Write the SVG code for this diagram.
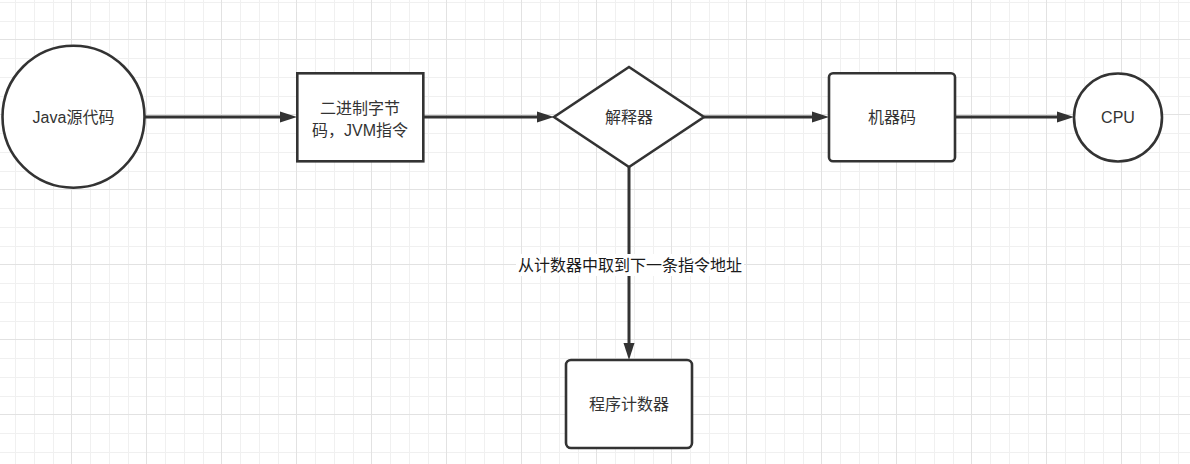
<svg xmlns="http://www.w3.org/2000/svg" width="1190" height="464" viewBox="0 0 1190 464">
<style>
.n{fill:#ffffff;stroke:#333333;stroke-width:2.6}
.t{font-family:"Liberation Sans","Noto Sans CJK SC",sans-serif;font-size:16px;fill:#333333;text-anchor:middle;dominant-baseline:central}
.e{fill:none;stroke:#333333;stroke-width:3}
.lbl{font-family:"Liberation Sans","Noto Sans CJK SC",sans-serif;font-size:16px;fill:#1a1a1a;text-anchor:middle;dominant-baseline:central}
</style>
<defs>
<pattern id="grid" patternUnits="userSpaceOnUse" x="-4" y="-36" width="75" height="75">
<rect x="0" y="0" width="75" height="75" fill="#ffffff"/>
<rect x="19" y="0" width="1" height="75" fill="#f0f0f0"/>
<rect x="38" y="0" width="1" height="75" fill="#f0f0f0"/>
<rect x="57" y="0" width="1" height="75" fill="#f0f0f0"/>
<rect x="0" y="19" width="75" height="1" fill="#f0f0f0"/>
<rect x="0" y="38" width="75" height="1" fill="#f0f0f0"/>
<rect x="0" y="57" width="75" height="1" fill="#f0f0f0"/>
<rect x="0" y="0" width="1" height="75" fill="#e2e2e2"/>
<rect x="0" y="0" width="75" height="1" fill="#e2e2e2"/>
</pattern>
<marker id="arr" markerUnits="userSpaceOnUse" markerWidth="18" markerHeight="12" refX="0" refY="5.5" orient="auto" overflow="visible">
<path d="M0,0 L17,5.5 L0,11 Z" fill="#333333"/>
</marker>
</defs>
<rect x="0" y="0" width="1190" height="464" fill="url(#grid)"/>
<g id="connectors">
<path class="e" d="M145,117 L280,117" marker-end="url(#arr)"/>
<path class="e" d="M423,117 L537,117" marker-end="url(#arr)"/>
<path class="e" d="M704,117 L812,117" marker-end="url(#arr)"/>
<path class="e" d="M955,117 L1057,117" marker-end="url(#arr)"/>
<path class="e" d="M629,167 L629,343" marker-end="url(#arr)"/>
<rect x="516" y="254" width="228" height="22" fill="#ffffff"/>
<text class="lbl" x="630" y="265">从计数器中取到下一条指令地址</text>
</g>
<g id="java">
<circle class="n" cx="73.5" cy="116.7" r="71"/>
<text class="t" x="73.5" y="117">Java源代码</text>
</g>
<g id="bytecode">
<rect class="n" x="297.3" y="73.3" width="126" height="88"/>
<text class="t" x="360" y="108">二进制字节</text>
<text class="t" x="360" y="130">码，JVM指令</text>
</g>
<g id="interpreter">
<path class="n" d="M629,67 L704,117 L629,167 L554,117 Z"/>
<text class="t" x="629" y="117">解释器</text>
</g>
<g id="machinecode">
<rect class="n" x="829" y="73.3" width="126" height="88" rx="4"/>
<text class="t" x="892" y="117">机器码</text>
</g>
<g id="cpu">
<circle class="n" cx="1118" cy="117.5" r="44"/>
<text class="t" x="1118" y="117.5">CPU</text>
</g>
<g id="pc">
<rect class="n" x="566" y="360" width="126" height="88" rx="5"/>
<text class="t" x="629" y="404">程序计数器</text>
</g>
</svg>
